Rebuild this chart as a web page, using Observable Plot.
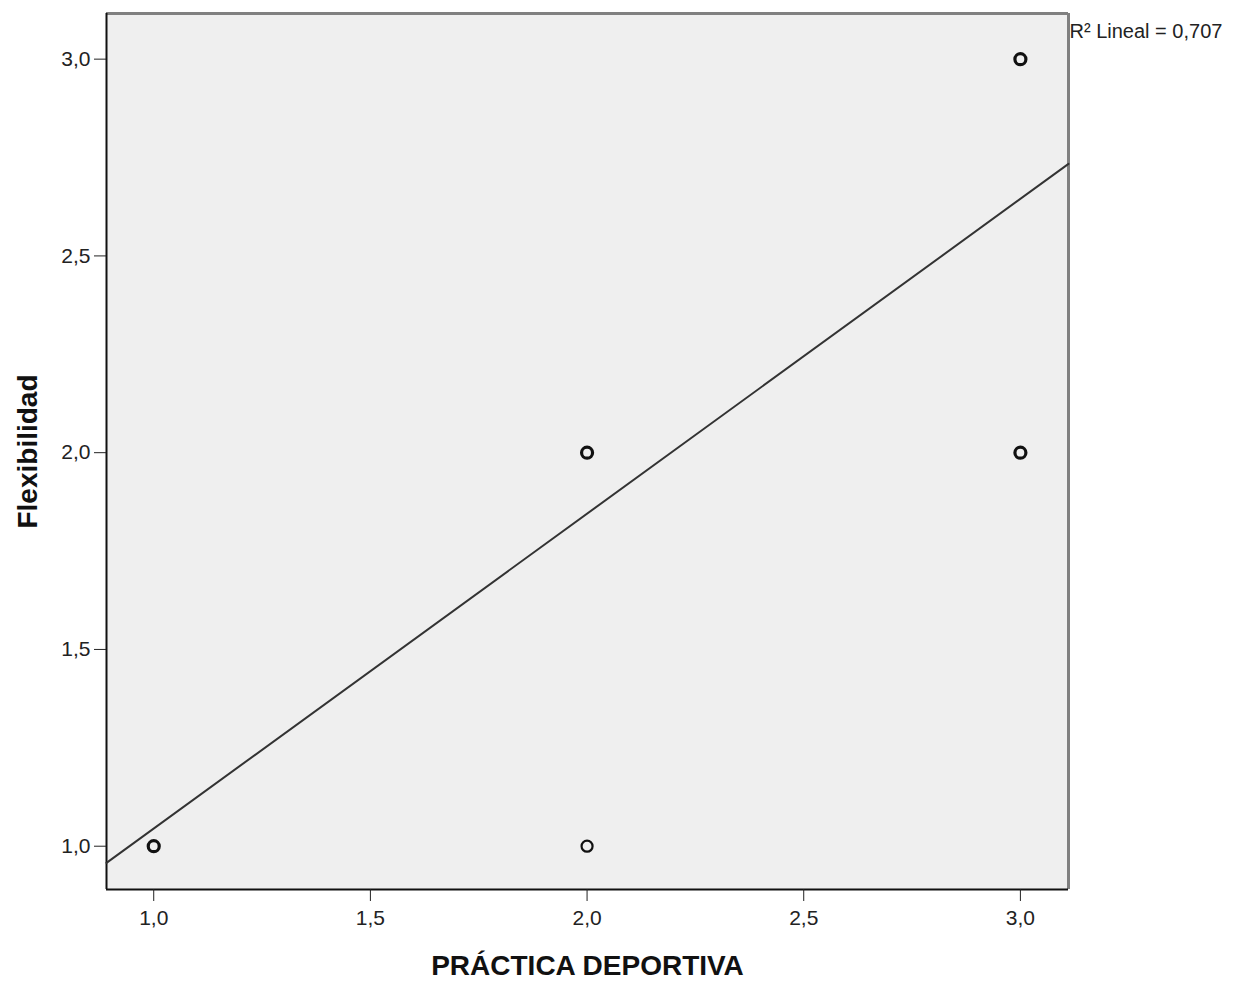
<!DOCTYPE html>
<html>
<head>
<meta charset="utf-8">
<script src="https://cdn.jsdelivr.net/npm/d3@7"></script>
<script src="https://cdn.jsdelivr.net/npm/@observablehq/plot@0.6"></script>
<style>
  html, body { margin: 0; padding: 0; background: white; }
</style>
</head>
<body>
<div id="chart"></div>
<script>
// ---- data ----
const practica     = [1, 2, 2, 3, 3];      // PRÁCTICA DEPORTIVA
const flexibilidad = [1, 1, 2, 2, 3];      // Flexibilidad
const casos        = [3, 1, 3, 3, 3];      // estimated overlapping cases per point
const xTicks = [1, 1.5, 2, 2.5, 3];
const yTicks = [1, 1.5, 2, 2.5, 3];
const xDomain = [0.891, 3.111];
const yDomain = [0.890, 3.116];
const regIntercept = 0.245;
const regSlope = 0.8;
const r2Label = "R² Lineal = 0,707";
const xLabel = "PRÁCTICA DEPORTIVA";
const yLabel = "Flexibilidad";

const points = practica.map((x, i) => ({x, y: flexibilidad[i], n: casos[i]}));
const fitLine = xDomain.map(x => ({x, y: regIntercept + regSlope * x}));
const fmt = d => d.toFixed(1).replace(".", ",");

const chart = Plot.plot({
  width: 1255,
  height: 982,
  marginLeft: 106,
  marginRight: 187,
  marginTop: 13,
  marginBottom: 93,
  style: {fontFamily: "'Liberation Sans', Arial, sans-serif", fontSize: "21px", background: "white", color: "#222"},
  x: {domain: xDomain, ticks: xTicks},
  y: {domain: yDomain, ticks: yTicks},
  marks: [
    Plot.frame({fill: "#efefef", stroke: "none"}),
    Plot.ruleY([yDomain[1]], {stroke: "#808080", strokeWidth: 3}),
    Plot.ruleX([xDomain[1]], {stroke: "#808080", strokeWidth: 3}),
    Plot.ruleX([xDomain[0]], {stroke: "#111", strokeWidth: 2}),
    Plot.ruleY([yDomain[0]], {stroke: "#111", strokeWidth: 2}),
    Plot.line(fitLine, {x: "x", y: "y", stroke: "#333", strokeWidth: 2}),
    Plot.dot(points, {x: "x", y: "y", r: 5.5, fill: "none", stroke: "#111",
      strokeWidth: d => d.n > 1 ? 3.2 : 2.2}),
    Plot.axisX({ticks: xTicks, tickFormat: fmt, tickSize: 12, tickPadding: 9,
      label: null, fontSize: 21, stroke: "#222", fill: "#222"}),
    Plot.axisY({ticks: yTicks, tickFormat: fmt, tickSize: 12, tickPadding: 4,
      label: null, fontSize: 21, stroke: "#222", fill: "#222"}),
    Plot.text([xLabel], {frameAnchor: "bottom", text: d => d, dy: 85, lineAnchor: "bottom",
      textAnchor: "middle", fontSize: 28, fontWeight: "bold", fill: "#111"}),
    Plot.text([yLabel], {frameAnchor: "left", text: d => d, dx: -78, rotate: -90,
      lineAnchor: "middle", textAnchor: "middle", fontSize: 28, fontWeight: "bold", fill: "#111"}),
    Plot.text([r2Label], {frameAnchor: "top-right", text: d => d, dx: 1, dy: 10,
      lineAnchor: "top", textAnchor: "start", fontSize: 20, fill: "#222"})
  ]
});
document.getElementById("chart").appendChild(chart);
</script>
</body>
</html>
